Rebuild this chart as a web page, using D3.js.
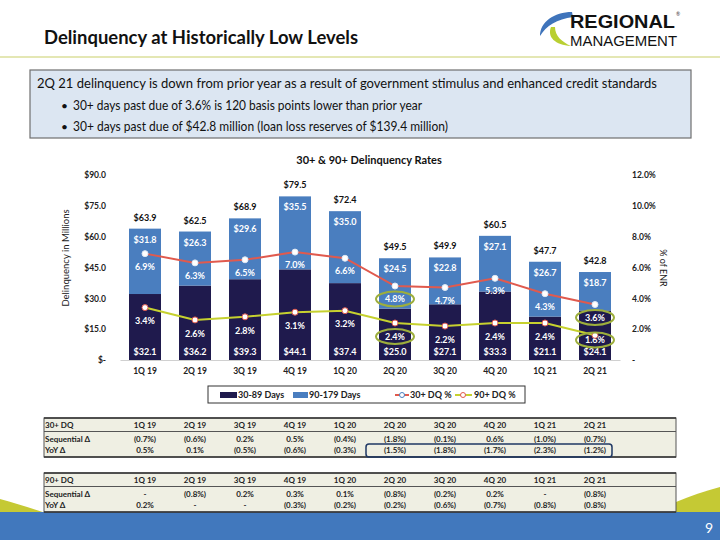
<!DOCTYPE html>
<html>
<head>
<meta charset="utf-8">
<script src="https://cdn.jsdelivr.net/npm/d3@7"></script>
<style>
  body { margin: 0; background: #fff; }
  svg { display: block; font-family: Lato, "Open Sans", sans-serif; }
</style>
</head>
<body>
<script>
// ---- data ----
const quarters = ["1Q 19", "2Q 19", "3Q 19", "4Q 19", "1Q 20", "2Q 20", "3Q 20", "4Q 20", "1Q 21", "2Q 21"];
const days30to89 = [32.1, 36.2, 39.3, 44.1, 37.4, 25.0, 27.1, 33.3, 21.1, 24.1];
const days90to179 = [31.8, 26.3, 29.6, 35.5, 35.0, 24.5, 22.8, 27.1, 26.7, 18.7];
const totals = [63.9, 62.5, 68.9, 79.5, 72.4, 49.5, 49.9, 60.5, 47.7, 42.8];
const dq30Rate = [6.9, 6.3, 6.5, 7.0, 6.6, 4.8, 4.7, 5.3, 4.3, 3.6];
const dq90Rate = [3.4, 2.6, 2.8, 3.1, 3.2, 2.4, 2.2, 2.4, 2.4, 1.6];
const leftTicks = [0, 15, 30, 45, 60, 75, 90];
const rightTicks = [0, 2, 4, 6, 8, 10, 12];
const highlighted = ["2Q 20", "2Q 21"];

const dq30Seq = ["(0.7%)", "(0.6%)", "0.2%", "0.5%", "(0.4%)", "(1.8%)", "(0.1%)", "0.6%", "(1.0%)", "(0.7%)"];
const dq30Yoy = ["0.5%", "0.1%", "(0.5%)", "(0.6%)", "(0.3%)", "(1.5%)", "(1.8%)", "(1.7%)", "(2.3%)", "(1.2%)"];
const dq90Seq = ["-", "(0.8%)", "0.2%", "0.3%", "0.1%", "(0.8%)", "(0.2%)", "0.2%", "-", "(0.8%)"];
const dq90Yoy = ["0.2%", "-", "-", "(0.3%)", "(0.2%)", "(0.2%)", "(0.6%)", "(0.7%)", "(0.8%)", "(0.8%)"];

const navy = "#1f1a4d", blue = "#4a7ebf", red = "#e05a4e", lime = "#c6d12f";

const svg = d3.select("body").append("svg")
    .attr("width", 720).attr("height", 540);

// ---- header ----
svg.append("text").attr("x", 44).attr("y", 44)
    .attr("font-size", 18.5).attr("font-weight", 700).attr("fill", "#111")
    .attr("textLength", 314).attr("lengthAdjust", "spacingAndGlyphs")
    .text("Delinquency at Historically Low Levels");

// logo
const logo = svg.append("g");
logo.append("path")
    .attr("d", "M572,12 C554,12 540,22 540,36 C546,26 557,19 573,17 Z")
    .attr("fill", "#3f74bb");
logo.append("path")
    .attr("d", "M551,27 C547,37 555,45 571,46 C562,42 555,36 555,27 Z")
    .attr("fill", "#b9cf32");
logo.append("text").attr("x", 570).attr("y", 28)
    .attr("font-family", "Liberation Sans, Arial, sans-serif")
    .attr("font-size", 19).attr("font-weight", 700).attr("fill", "#111")
    .attr("textLength", 105).attr("lengthAdjust", "spacingAndGlyphs")
    .text("REGIONAL");
logo.append("text").attr("x", 570).attr("y", 45.5)
    .attr("font-family", "Liberation Sans, Arial, sans-serif")
    .attr("font-size", 14.5).attr("fill", "#111")
    .attr("textLength", 107).attr("lengthAdjust", "spacingAndGlyphs")
    .text("MANAGEMENT");
logo.append("text").attr("x", 676).attr("y", 16).attr("font-size", 5).attr("fill", "#333").text("®");

svg.append("line").attr("x1", 0).attr("x2", 720).attr("y1", 57).attr("y2", 57)
    .attr("stroke", "#e4e7b4").attr("stroke-width", 2);

// summary box
svg.append("rect").attr("x", 30).attr("y", 70).attr("width", 661).attr("height", 68)
    .attr("fill", "#dce6f2").attr("stroke", "#6f6f6f").attr("stroke-width", 1.2);
const boxLines = [
  "2Q 21 delinquency is down from prior year as a result of government stimulus and enhanced credit standards",
  "30+ days past due of 3.6% is 120 basis points lower than prior year",
  "30+ days past due of $42.8 million (loan loss reserves of $139.4 million)"
];
const boxWidths = [620, 349, 375];
svg.append("text").attr("x", 37).attr("y", 88).attr("font-size", 12.5).attr("fill", "#111")
    .attr("textLength", boxWidths[0]).attr("lengthAdjust", "spacingAndGlyphs").text(boxLines[0]);
boxLines.slice(1).forEach((t, i) => {
  svg.append("text").attr("x", 61).attr("y", 110 + i * 20.5).attr("font-size", 12).attr("fill", "#111").text("•");
  svg.append("text").attr("x", 73).attr("y", 110 + i * 20.5).attr("font-size", 12.5).attr("fill", "#111")
      .attr("textLength", boxWidths[i + 1]).attr("lengthAdjust", "spacingAndGlyphs").text(t);
});

// ---- chart ----
const x = d3.scaleBand().domain(quarters).range([120, 620]).paddingInner(0.36).paddingOuter(0.18);
const y = d3.scaleLinear().domain([0, 90]).range([360, 175]);
const yr = d3.scaleLinear().domain([0, 12]).range([360, 175]);
const cx = q => x(q) + x.bandwidth() / 2;

svg.append("text").attr("x", 369).attr("y", 164).attr("text-anchor", "middle")
    .attr("font-size", 11).attr("font-weight", 700).attr("fill", "#111")
    .text("30+ & 90+ Delinquency Rates");

const leftAxis = svg.append("g").attr("transform", "translate(106,0)")
    .call(d3.axisLeft(y).tickValues(leftTicks).tickSize(0).tickPadding(0)
      .tickFormat(d => d === 0 ? "$-" : "$" + d.toFixed(1)));
const rightAxis = svg.append("g").attr("transform", "translate(632,0)")
    .call(d3.axisRight(yr).tickValues(rightTicks).tickSize(0).tickPadding(0)
      .tickFormat(d => d === 0 ? "-" : d.toFixed(1) + "%"));
[leftAxis, rightAxis].forEach(g => {
  g.select(".domain").remove();
  g.selectAll("text").attr("font-family", "Lato, sans-serif").attr("font-size", 8.5)
    .attr("font-weight", 700).attr("fill", "#222");
});

const xAxis = svg.append("g").attr("transform", "translate(0,360)")
    .call(d3.axisBottom(x).tickSize(0).tickPadding(8));
xAxis.select(".domain").attr("stroke", "#d0d0d0").attr("stroke-width", 1.2);
xAxis.selectAll("text").attr("font-family", "Lato, sans-serif").attr("font-size", 8.5)
    .attr("font-weight", 700).attr("fill", "#222");

svg.append("text").attr("transform", "translate(69,258) rotate(-90)")
    .attr("text-anchor", "middle").attr("font-size", 9.5).attr("fill", "#222")
    .text("Delinquency in Millions");
svg.append("text").attr("transform", "translate(660,268) rotate(90)")
    .attr("text-anchor", "middle").attr("font-size", 9).attr("fill", "#222")
    .text("% of ENR");

// bars
const rows = quarters.map((q, i) => ({ q, a: days30to89[i], b: days90to179[i], t: totals[i],
  r30: dq30Rate[i], r90: dq90Rate[i] }));
const bars = svg.append("g");
bars.selectAll(".a").data(rows).join("rect")
    .attr("x", d => x(d.q)).attr("width", x.bandwidth())
    .attr("y", d => y(d.a)).attr("height", d => y(0) - y(d.a)).attr("fill", navy);
bars.selectAll(".b").data(rows).join("rect")
    .attr("x", d => x(d.q)).attr("width", x.bandwidth())
    .attr("y", d => y(d.a + d.b)).attr("height", d => y(d.a) - y(d.a + d.b)).attr("fill", blue);

const lbl = svg.append("g").attr("font-size", 9).attr("font-weight", 700).attr("text-anchor", "middle");
lbl.selectAll(".la").data(rows).join("text")
    .attr("x", d => cx(d.q)).attr("y", y(0) - 5).attr("fill", "#fff")
    .text(d => "$" + d.a.toFixed(1));
lbl.selectAll(".lb").data(rows).join("text")
    .attr("x", d => cx(d.q)).attr("y", d => y(d.a + d.b) + 14).attr("fill", "#fff")
    .text(d => "$" + d.b.toFixed(1));
lbl.selectAll(".lt").data(rows).join("text")
    .attr("x", d => cx(d.q)).attr("y", d => y(d.a + d.b) - 8).attr("fill", "#111")
    .text(d => "$" + d.t.toFixed(1));

// lines
const line30 = d3.line().x(d => cx(d.q)).y(d => yr(d.r30));
const line90 = d3.line().x(d => cx(d.q)).y(d => yr(d.r90));
svg.append("path").datum(rows).attr("d", line30).attr("fill", "none").attr("stroke", red).attr("stroke-width", 2);
svg.append("path").datum(rows).attr("d", line90).attr("fill", "none").attr("stroke", lime).attr("stroke-width", 2);
svg.append("g").selectAll("circle").data(rows).join("circle")
    .attr("cx", d => cx(d.q)).attr("cy", d => yr(d.r30)).attr("r", 3)
    .attr("fill", "#fff").attr("stroke", "#dfe8f4").attr("stroke-width", 1);
svg.append("g").selectAll("circle").data(rows).join("circle")
    .attr("cx", d => cx(d.q)).attr("cy", d => yr(d.r90)).attr("r", 3)
    .attr("fill", "#fff").attr("stroke", red).attr("stroke-width", 1);

// label centre: 13px under the point, but kept clear of the $ label at the bar foot
const labelY = {
  r30: d => yr(d.r30) + 13,
  r90: d => Math.min(yr(d.r90) + 13.5, y(0) - 20)
};
lbl.selectAll(".l30").data(rows).join("text")
    .attr("x", d => cx(d.q)).attr("y", d => labelY.r30(d) + 3.2).attr("fill", "#fff")
    .text(d => d.r30.toFixed(1) + "%");
lbl.selectAll(".l90").data(rows).join("text")
    .attr("x", d => cx(d.q)).attr("y", d => labelY.r90(d) + 3.2).attr("fill", "#fff")
    .text(d => d.r90.toFixed(1) + "%");

// highlight ellipses
const hl = rows.filter(d => highlighted.includes(d.q));
["r30", "r90"].forEach(k => {
  svg.append("g").selectAll("ellipse").data(hl).join("ellipse")
      .attr("cx", d => cx(d.q)).attr("cy", d => labelY[k](d)).attr("rx", 19).attr("ry", 7.5)
      .attr("fill", "none").attr("stroke", "#9dae3c").attr("stroke-width", 2);
});

// legend
const lg = svg.append("g").attr("font-size", 9).attr("font-weight", 700).attr("fill", "#222");
lg.append("rect").attr("x", 208).attr("y", 386).attr("width", 317).attr("height", 17)
    .attr("fill", "#fff").attr("stroke", "#333").attr("stroke-width", 1);
lg.append("rect").attr("x", 220).attr("y", 392).attr("width", 17).attr("height", 6).attr("fill", navy);
lg.append("text").attr("x", 238).attr("y", 398).text("30-89 Days");
lg.append("rect").attr("x", 293).attr("y", 392).attr("width", 15).attr("height", 6).attr("fill", blue);
lg.append("text").attr("x", 309).attr("y", 398).text("90-179 Days");
lg.append("line").attr("x1", 395).attr("x2", 409).attr("y1", 395).attr("y2", 395).attr("stroke", red).attr("stroke-width", 2);
lg.append("circle").attr("cx", 402).attr("cy", 395).attr("r", 2.5).attr("fill", "#fff").attr("stroke", "#4a7ebf");
lg.append("text").attr("x", 410).attr("y", 398).text("30+ DQ %");
lg.append("line").attr("x1", 455).attr("x2", 472).attr("y1", 395).attr("y2", 395).attr("stroke", lime).attr("stroke-width", 2);
lg.append("circle").attr("cx", 463).attr("cy", 395).attr("r", 2.5).attr("fill", "#fff").attr("stroke", red);
lg.append("text").attr("x", 474).attr("y", 398).text("90+ DQ %");

// ---- footer band and swooshes ----
svg.append("path").attr("d", "M0,499 C15,503 30,508 46,513 L0,513 Z").attr("fill", "#c5c934");
svg.append("path").attr("d", "M676,502 C690,496 705,491 720,487 L720,513 L676,513 Z").attr("fill", "#c5c934");
svg.append("rect").attr("x", 0).attr("y", 512).attr("width", 720).attr("height", 28).attr("fill", "#4178bd");
svg.append("text").attr("x", 713).attr("y", 533).attr("text-anchor", "end")
    .attr("font-size", 14).attr("fill", "#fff").text("9");

// ---- tables ----
function table(top, title, seq, yoy) {
  const g = svg.append("g").attr("font-size", 8).attr("font-weight", 700).attr("fill", "#222");
  const h = 39;
  g.append("rect").attr("x", 44).attr("y", top).attr("width", 632).attr("height", h)
      .attr("fill", "#efefe3").attr("stroke", "#555").attr("stroke-width", 1);
  g.append("line").attr("x1", 44).attr("x2", 676).attr("y1", top).attr("y2", top).attr("stroke", "#333").attr("stroke-width", 1.5);
  g.append("line").attr("x1", 44).attr("x2", 676).attr("y1", top + h).attr("y2", top + h).attr("stroke", "#333").attr("stroke-width", 1.5);
  g.append("line").attr("x1", 44).attr("x2", 676).attr("y1", top + 13.5).attr("y2", top + 13.5).attr("stroke", "#555").attr("stroke-width", 1);
  const rowsY = [top + 10, top + 23.5, top + 35];
  [[title].concat(quarters), ["Sequential Δ"].concat(seq), ["YoY Δ"].concat(yoy)].forEach((r, ri) => {
    g.append("text").attr("x", 45).attr("y", rowsY[ri]).text(r[0]);
    g.selectAll(null).data(r.slice(1)).join("text")
        .attr("x", (d, i) => cx(quarters[i])).attr("y", rowsY[ri])
        .attr("text-anchor", "middle").text(d => d);
  });
  return { g, rowsY };
}
const t1 = table(418, "30+ DQ", dq30Seq, dq30Yoy);
table(473, "90+ DQ", dq90Seq, dq90Yoy);

// YoY highlight on 30+ table
svg.append("rect")
    .attr("x", x("2Q 20") - 13).attr("y", t1.rowsY[2] - 9)
    .attr("width", cx("2Q 21") - cx("2Q 20") + x.bandwidth() + 14).attr("height", 13)
    .attr("rx", 3).attr("fill", "none").attr("stroke", "#1f3864").attr("stroke-width", 1.5);
</script>
</body>
</html>
